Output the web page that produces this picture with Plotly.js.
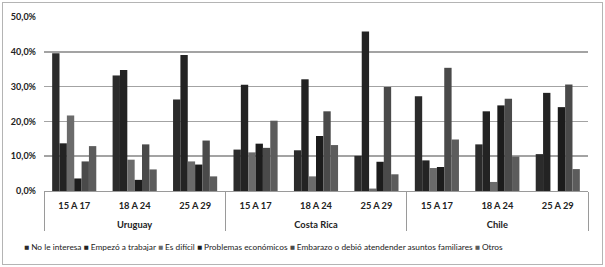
<!DOCTYPE html>
<html>
<head>
<meta charset="utf-8">
<script src="https://cdn.plot.ly/plotly-3.0.1.min.js"></script>
<style>
html,body{margin:0;padding:0;background:#fff;}
#wrap{position:relative;width:605px;height:267px;}
#chart{position:absolute;left:0;top:0;width:605px;height:267px;}
#frame{position:absolute;left:2px;top:2px;width:599px;height:261px;border:1px solid #b4b4b4;pointer-events:none;}
</style>
</head>
<body>
<div id="wrap"><div id="chart"></div><div id="frame"></div></div>
<script>
const countries = ["Uruguay", "Costa Rica", "Chile"];
const ageGroups = ["15 A 17", "18 A 24", "25 A 29"];
const seriesNames = ["No le interesa", "Empezó a trabajar", "Es difícil", "Problemas económicos", "Embarazo o debió atendender asuntos familiares", "Otros"];
const seriesColors = ["#2b2b2b", "#232323", "#6b6b6b", "#1c1c1c", "#4a4a4a", "#5c5c5c"];
// values per series, order: Uruguay(15-17,18-24,25-29), Costa Rica(...), Chile(...)
const noLeInteresa   = [39.6, 33.2, 26.3, 11.9, 11.7, 10.1, 27.2, 13.4, 10.6];
const empezoTrabajar = [13.7, 34.8, 39.1, 30.5, 32.1, 45.8, 8.8, 22.9, 28.2];
const esDificil      = [21.7, 9.0, 8.5, 11.1, 4.2, 0.7, 6.6, 2.6, 0.0];
const problemasEcon  = [3.6, 3.2, 7.6, 13.6, 15.8, 8.4, 6.9, 24.6, 24.1];
const embarazo       = [8.5, 13.4, 14.5, 12.4, 22.9, 29.9, 35.4, 26.5, 30.6];
const otros          = [12.9, 6.2, 4.2, 20.2, 13.2, 4.8, 14.8, 9.9, 6.3];
const yTickVals = [0, 10, 20, 30, 40, 50];
const yTickText = ["0,0%", "10,0%", "20,0%", "30,0%", "40,0%", "50,0%"];

const seriesValues = [noLeInteresa, empezoTrabajar, esDificil, problemasEcon, embarazo, otros];

const xCountry = [], xAge = [];
countries.forEach(c => ageGroups.forEach(a => { xCountry.push("<br>" + c); xAge.push(a); }));

const traces = seriesNames.map((name, i) => ({
  type: "bar",
  name: name,
  x: [xCountry, xAge],
  y: seriesValues[i],
  marker: {color: seriesColors[i], line: {width: 0}},
  hoverinfo: "skip"
}));

const legendText = seriesNames.map((n, i) =>
  '<span style="color:' + seriesColors[i] + '">■</span> ' + n).join(" ");

const fontFam = "Lato, 'Open Sans', sans-serif";

const layout = {
  width: 605, height: 267,
  margin: {l: 44, r: 17, t: 17, b: 76},
  paper_bgcolor: "rgba(0,0,0,0)",
  plot_bgcolor: "#fff",
  showlegend: false,
  bargap: 0.27,
  bargroupgap: 0,
  font: {family: fontFam, size: 10, color: "#222"},
  xaxis: {
    type: "multicategory",
    showline: true, linecolor: "#9a9a9a", linewidth: 1,
    showgrid: false, ticks: "",
    showdividers: true, dividercolor: "#9a9a9a", dividerwidth: 1,
    ticklabelstandoff: 6,
    tickfont: {family: fontFam, size: 9.3, color: "#222", weight: 700},
    fixedrange: true
  },
  yaxis: {
    range: [0, 50],
    tickvals: yTickVals, ticktext: yTickText,
    showgrid: true, gridcolor: "#a3a3a3", gridwidth: 1.5,
    zeroline: false, showline: false, ticks: "",
    ticklabelstandoff: 7,
    tickfont: {family: fontFam, size: 9, color: "#222", weight: 700},
    fixedrange: true
  },
  annotations: [{
    xref: "paper", yref: "paper",
    x: 0.403, y: -0.322, xanchor: "center", yanchor: "middle",
    showarrow: false,
    text: legendText,
    font: {family: fontFam, size: 8.3, color: "#222"}
  }]
};

Plotly.newPlot("chart", traces, layout, {staticPlot: true, displayModeBar: false});
</script>
</body>
</html>
